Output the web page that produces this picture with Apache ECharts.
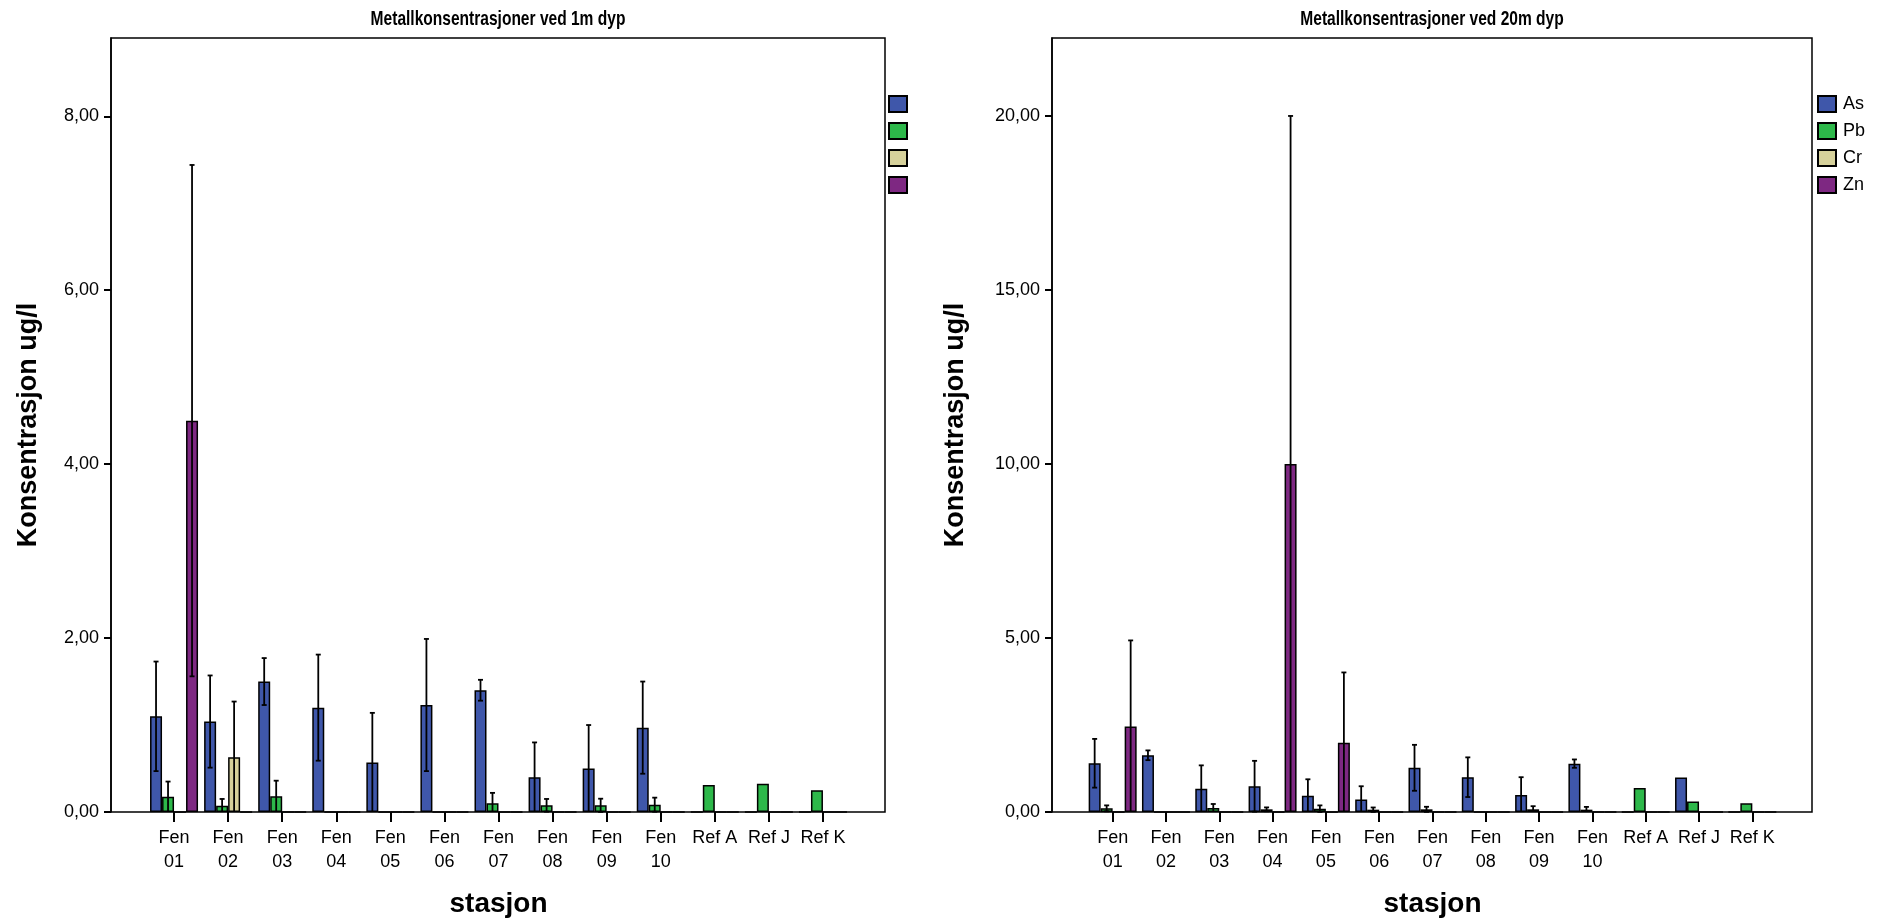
<!DOCTYPE html>
<html>
<head>
<meta charset="utf-8">
<script src="https://cdn.jsdelivr.net/npm/echarts@6/dist/echarts.min.js"></script>
<style>
html,body{margin:0;padding:0;background:#fff;}
#chart{width:1879px;height:920px;}
</style>
</head>
<body>
<div id="chart"></div>
<script>
// ---------- data ----------
const categories = ['Fen 01','Fen 02','Fen 03','Fen 04','Fen 05','Fen 06','Fen 07','Fen 08','Fen 09','Fen 10','Ref A','Ref J','Ref K'];
const metals = ['As','Pb','Cr','Zn'];
const yTicks1m = [0, 2, 4, 6, 8];
const yTicks20m = [0, 5, 10, 15, 20];
const titles = ['Metallkonsentrasjoner ved 1m dyp', 'Metallkonsentrasjoner ved 20m dyp'];

// 1 m depth: means
const as1m = [1.10, 1.04, 1.50, 1.20, 0.57, 1.23, 1.40, 0.40, 0.50, 0.97, 0, 0, 0];
const pb1m = [0.175, 0.072, 0.18, 0, 0, 0, 0.10, 0.077, 0.077, 0.084, 0.31, 0.326, 0.25];
const cr1m = [0, 0.63, 0, 0, 0, 0, 0, 0, 0, 0, 0, 0, 0];
const zn1m = [4.50, 0, 0, 0, 0, 0, 0, 0, 0, 0, 0, 0, 0];
// 1 m depth: error bar half-widths
const asErr1m = [0.63, 0.53, 0.27, 0.61, 0.57, 0.76, 0.12, 0.40, 0.50, 0.53, null, null, null];
const pbErr1m = [0.175, 0.078, 0.18, null, null, null, 0.12, 0.073, 0.076, 0.081, null, null, null];
const crErr1m = [null, 0.64, null, null, null, null, null, null, null, null, null, null, null];
const znErr1m = [2.94, null, null, null, null, null, null, null, null, null, null, null, null];

// 20 m depth: means
const as20m = [1.40, 1.63, 0.67, 0.74, 0.47, 0.36, 1.27, 1.00, 0.49, 1.39, 0, 0.99, 0];
const pb20m = [0.105, 0, 0.115, 0.077, 0.096, 0.067, 0.077, 0, 0.077, 0.067, 0.69, 0.30, 0.25];
const cr20m = [0, 0, 0, 0, 0, 0, 0, 0, 0, 0, 0, 0, 0];
const zn20m = [2.46, 0, 0, 10.0, 1.99, 0, 0, 0, 0, 0, 0, 0, 0];
// 20 m depth: error bar half-widths
const asErr20m = [0.70, 0.14, 0.67, 0.73, 0.47, 0.38, 0.66, 0.57, 0.51, 0.12, null, null, null];
const pbErr20m = [0.085, null, 0.115, 0.055, 0.094, 0.063, 0.073, null, 0.09, 0.08, null, null, null];
const crErr20m = [null, null, null, null, null, null, null, null, null, null, null, null, null];
const znErr20m = [2.47, null, null, 10.0, 2.02, null, null, null, null, null, null, null, null];

// ---------- styling ----------
const colors = {As:'#3F57AA', Pb:'#2DB84A', Cr:'#D6D19B', Zn:'#7E2882'};
const BAR_W = 12;
const FONT = 'Liberation Sans, Arial, sans-serif';

const vals1m = [as1m, pb1m, cr1m, zn1m];
const errs1m = [asErr1m, pbErr1m, crErr1m, znErr1m];
const vals20m = [as20m, pb20m, cr20m, zn20m];
const errs20m = [asErr20m, pbErr20m, crErr20m, znErr20m];

function fmtComma(v){ return v.toFixed(2).replace('.', ','); }
function catFmt(v){ return v.indexOf('Fen') === 0 ? v.replace(' ', '\n') : v; }

function errData(vals, errs){
  const out = [];
  for (let m = 0; m < vals.length; m++) {
    for (let i = 0; i < categories.length; i++) {
      if (errs[m][i] != null) out.push([i, vals[m][i], errs[m][i], m]);
    }
  }
  return out;
}

function errRender(params, api){
  const i = api.value(0), v = api.value(1), e = api.value(2), m = api.value(3);
  const off = (m - (metals.length - 1) / 2) * BAR_W;
  const lo = Math.max(0, v - e);
  const top = api.coord([i, v + e]);
  const bot = api.coord([i, lo]);
  const x = top[0] + off;
  const cap = 2.5;
  const st = {stroke:'#000', lineWidth:1.8};
  const ch = [
    {type:'line', shape:{x1:x, y1:top[1], x2:x, y2:bot[1]}, style:st},
    {type:'line', shape:{x1:x-cap, y1:top[1], x2:x+cap, y2:top[1]}, style:st}
  ];
  if (v - e > 0) ch.push({type:'line', shape:{x1:x-cap, y1:bot[1], x2:x+cap, y2:bot[1]}, style:st});
  return {type:'group', children:ch};
}

function barSeries(vals, axisIdx){
  return metals.map((name, m) => ({
    name: name,
    type: 'bar',
    xAxisIndex: axisIdx, yAxisIndex: axisIdx,
    data: vals[m],
    barWidth: BAR_W,
    barGap: '0%',
    itemStyle: {color: colors[name], borderColor:'#000', borderWidth:1.5},
    emphasis: {disabled:true},
    z: 3
  }));
}

const TOP = 38, H = 774;
const frameL = {left:111, width:774};
const barsL  = {left:147, width:703};
const frameR = {left:1052, width:760};
const barsR  = {left:1086, width:693};
const max1m = 8.9, max20m = 22.24;

function frameY(max, ticks, nameGap){
  return {
    type:'value', min:0, max:max,
    name:'Konsentrasjon ug/l', nameLocation:'middle', nameGap:nameGap, nameRotate:90,
    nameTextStyle:{fontFamily:FONT, fontWeight:'bold', fontSize:27, color:'#000'},
    axisLine:{show:true, lineStyle:{color:'#000', width:1.5}},
    axisTick:{show:true, length:7, lineStyle:{color:'#000', width:2}, customValues:ticks},
    axisLabel:{show:true, margin:12, fontFamily:FONT, fontSize:18, color:'#000', customValues:ticks, formatter:fmtComma},
    splitLine:{show:false}
  };
}
function hiddenY(max){
  return {type:'value', min:0, max:max, show:false, splitLine:{show:false}};
}
function catX(){
  return {
    type:'category', data:categories,
    name:'stasjon', nameLocation:'middle', nameGap:78,
    nameTextStyle:{fontFamily:FONT, fontWeight:'bold', fontSize:28, color:'#000'},
    axisLine:{show:false},
    axisTick:{show:true, alignWithLabel:true, length:10, lineStyle:{color:'#000', width:2}},
    axisLabel:{interval:0, margin:14, fontFamily:FONT, fontSize:18, lineHeight:24, color:'#000', formatter:catFmt},
    splitLine:{show:false}
  };
}

function titleText(text, cx){
  return {
    type:'text', x:cx, y:19, scaleX:0.74, silent:true,
    style:{text:text, fontFamily:FONT, fontWeight:'bold', fontSize:21, fill:'#000',
           textAlign:'center', textVerticalAlign:'middle'}
  };
}

const option = {
  animation:false,
  backgroundColor:'#fff',
  graphic:[
    titleText(titles[0], frameL.left + frameL.width / 2),
    titleText(titles[1], frameR.left + frameR.width / 2)
  ],
  legend:[
    {data:metals, left:888, top:95, orient:'vertical', icon:'rect', itemWidth:18, itemHeight:16, itemGap:9,
     selectedMode:false, formatter:function(){return '';}, padding:0},
    {data:metals, left:1817, top:95, orient:'vertical', icon:'rect', itemWidth:18, itemHeight:16, itemGap:9,
     selectedMode:false, padding:0, textStyle:{fontFamily:FONT, fontSize:18, color:'#000', padding:[0,0,0,2]}}
  ],
  grid:[
    {left:frameL.left, top:TOP, width:frameL.width, height:H, show:true, borderColor:'#000', borderWidth:1.5, backgroundColor:'transparent', containLabel:false, outerBoundsMode:'none'},
    {left:barsL.left, top:TOP, width:barsL.width, height:H, containLabel:false, outerBoundsMode:'none'},
    {left:frameR.left, top:TOP, width:frameR.width, height:H, show:true, borderColor:'#000', borderWidth:1.5, backgroundColor:'transparent', containLabel:false, outerBoundsMode:'none'},
    {left:barsR.left, top:TOP, width:barsR.width, height:H, containLabel:false, outerBoundsMode:'none'}
  ],
  xAxis:[
    {type:'value', gridIndex:0, min:0, max:1, show:false},
    Object.assign(catX(), {gridIndex:1}),
    {type:'value', gridIndex:2, min:0, max:1, show:false},
    Object.assign(catX(), {gridIndex:3})
  ],
  yAxis:[
    Object.assign(frameY(max1m, yTicks1m, 69), {gridIndex:0}),
    Object.assign(hiddenY(max1m), {gridIndex:1}),
    Object.assign(frameY(max20m, yTicks20m, 83), {gridIndex:2}),
    Object.assign(hiddenY(max20m), {gridIndex:3})
  ],
  series: [].concat(
    barSeries(vals1m, 1),
    barSeries(vals20m, 3),
    [
      {name:'err1m', type:'custom', xAxisIndex:1, yAxisIndex:1, data:errData(vals1m, errs1m),
       encode:{x:0, y:1}, renderItem:errRender, z:5, silent:true},
      {name:'err20m', type:'custom', xAxisIndex:3, yAxisIndex:3, data:errData(vals20m, errs20m),
       encode:{x:0, y:1}, renderItem:errRender, z:5, silent:true}
    ]
  )
};

const chart = echarts.init(document.getElementById('chart'));
chart.setOption(option);
</script>
</body>
</html>
